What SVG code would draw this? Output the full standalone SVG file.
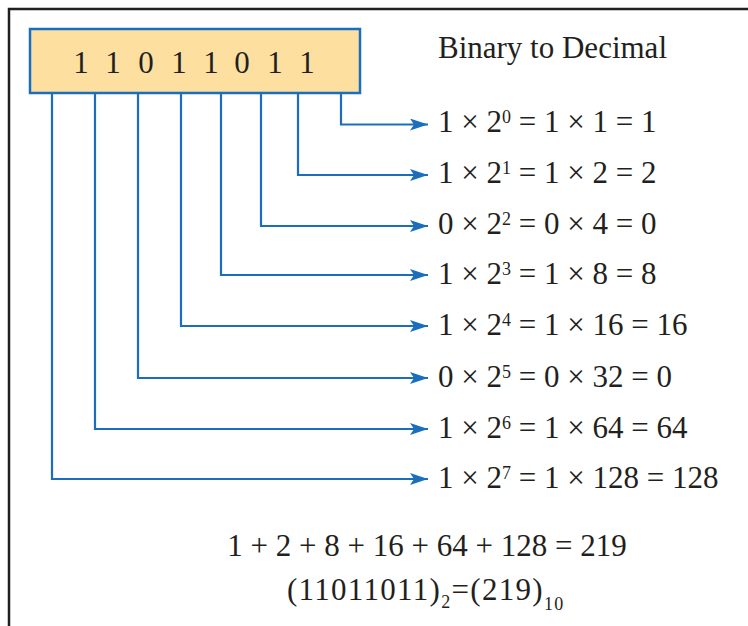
<svg xmlns="http://www.w3.org/2000/svg" width="748" height="626" viewBox="0 0 748 626">
<defs>
<style>
.t{font-family:"Liberation Serif","DejaVu Serif",serif;fill:#231f20;font-size:31px}
.s{font-size:18px}
.c{fill:none;stroke:#1a6ebd;stroke-width:2.2}
</style>
<marker id="ah" viewBox="0 0 18 12" refX="18" refY="6" markerWidth="18" markerHeight="12" markerUnits="userSpaceOnUse" orient="auto">
<path d="M0,0 L18,6 L0,12 L4,6 Z" fill="#1a6ebd"/>
</marker>
</defs>
<rect width="748" height="626" fill="#fff"/>
<path d="M9,626 V9 H748" fill="none" stroke="#231f20" stroke-width="2.5"/>
<g id="binary">
<rect x="30" y="29" width="330" height="64" fill="#fde0a0" stroke="#1a6ebd" stroke-width="2.5"/>
<text class="t" y="73" text-anchor="middle"><tspan x="81">1</tspan><tspan x="113">1</tspan><tspan x="146">0</tspan><tspan x="179">1</tspan><tspan x="211">1</tspan><tspan x="242">0</tspan><tspan x="275">1</tspan><tspan x="307">1</tspan></text>
</g>
<g id="title"><text class="t" x="438" y="58" font-size="29">Binary to Decimal</text></g>
<g id="connectors">
<path class="c" marker-end="url(#ah)" d="M341,93 V124.5 H428"/>
<path class="c" marker-end="url(#ah)" d="M298,93 V175 H428"/>
<path class="c" marker-end="url(#ah)" d="M261,93 V226 H428"/>
<path class="c" marker-end="url(#ah)" d="M221,93 V275 H428"/>
<path class="c" marker-end="url(#ah)" d="M181,93 V326 H428"/>
<path class="c" marker-end="url(#ah)" d="M138,93 V378 H428"/>
<path class="c" marker-end="url(#ah)" d="M95,93 V429 H428"/>
<path class="c" marker-end="url(#ah)" d="M52,93 V479 H428"/>
</g>
<g id="r0"><text class="t" x="438" y="132">1 × 2<tspan dy="-9" class="s">0</tspan><tspan dy="9"> = 1 × 1 = 1</tspan></text></g>
<g id="r1"><text class="t" x="438" y="183">1 × 2<tspan dy="-9" class="s">1</tspan><tspan dy="9"> = 1 × 2 = 2</tspan></text></g>
<g id="r2"><text class="t" x="438" y="234">0 × 2<tspan dy="-9" class="s">2</tspan><tspan dy="9"> = 0 × 4 = 0</tspan></text></g>
<g id="r3"><text class="t" x="438" y="284">1 × 2<tspan dy="-9" class="s">3</tspan><tspan dy="9"> = 1 × 8 = 8</tspan></text></g>
<g id="r4"><text class="t" x="438" y="335">1 × 2<tspan dy="-9" class="s">4</tspan><tspan dy="9"> = 1 × 16 = 16</tspan></text></g>
<g id="r5"><text class="t" x="438" y="387">0 × 2<tspan dy="-9" class="s">5</tspan><tspan dy="9"> = 0 × 32 = 0</tspan></text></g>
<g id="r6"><text class="t" x="438" y="438">1 × 2<tspan dy="-9" class="s">6</tspan><tspan dy="9"> = 1 × 64 = 64</tspan></text></g>
<g id="r7"><text class="t" x="438" y="488">1 × 2<tspan dy="-9" class="s">7</tspan><tspan dy="9"> = 1 × 128 = 128</tspan></text></g>
<g id="sum"><text class="t" x="427" y="556" text-anchor="middle">1 + 2 + 8 + 16 + 64 + 128 = 219</text></g>
<g id="result"><text class="t" x="287" y="600" letter-spacing="1.3">(11011011)<tspan dy="8" class="s">2</tspan><tspan dy="-8">=(219)</tspan><tspan dy="10" class="s">10</tspan></text></g>
</svg>
